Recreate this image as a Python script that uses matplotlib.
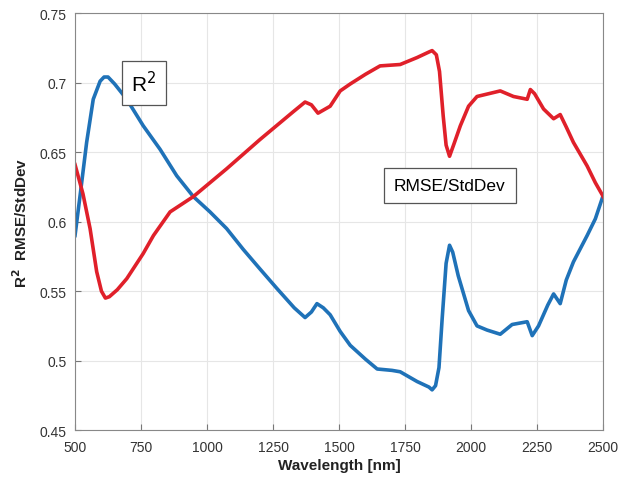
import matplotlib
matplotlib.use('Agg')
import matplotlib.pyplot as plt

plt.rcParams['font.family'] = ['Liberation Sans', 'DejaVu Sans']

# R^2 curve (blue)
r2_nm = [500, 520, 544, 569, 595, 610, 625, 650, 696, 758, 822, 885, 948, 1011, 1074, 1137,
         1200, 1264, 1330, 1371, 1395, 1416, 1440, 1466, 1504, 1542, 1600, 1644, 1700, 1731,
         1795, 1840, 1852, 1865, 1878, 1890, 1905, 1918, 1930, 1951, 1990, 2022, 2060, 2110,
         2155, 2212, 2231, 2255, 2290, 2312, 2337, 2360, 2387, 2439, 2470, 2500]
r2_val = [0.590, 0.620, 0.657, 0.688, 0.701, 0.704, 0.704, 0.699, 0.688, 0.669, 0.652, 0.633,
          0.618, 0.607, 0.595, 0.580, 0.566, 0.552, 0.538, 0.531, 0.535, 0.541, 0.538, 0.533,
          0.521, 0.511, 0.501, 0.494, 0.493, 0.492, 0.485, 0.481, 0.479, 0.482, 0.495, 0.530,
          0.570, 0.583, 0.578, 0.561, 0.536, 0.525, 0.522, 0.519, 0.526, 0.528, 0.518, 0.525,
          0.540, 0.548, 0.541, 0.558, 0.571, 0.590, 0.602, 0.619]

# RMSE/StdDev curve (red)
rmse_nm = [500, 530, 557, 582, 600, 615, 630, 660, 696, 758, 797, 860, 948, 1074, 1200,
           1326, 1371, 1395, 1420, 1466, 1504, 1542, 1600, 1655, 1731, 1795, 1840, 1852, 1868,
           1880, 1894, 1905, 1918, 1935, 1959, 1990, 2022, 2110, 2160, 2212, 2224, 2240, 2274,
           2312, 2337, 2360, 2387, 2439, 2470, 2500]
rmse_val = [0.641, 0.620, 0.595, 0.564, 0.550, 0.545, 0.546, 0.551, 0.559, 0.577, 0.590,
            0.607, 0.618, 0.638, 0.659, 0.679, 0.686, 0.684, 0.678, 0.683, 0.694, 0.699, 0.706,
            0.712, 0.713, 0.718, 0.722, 0.723, 0.720, 0.708, 0.676, 0.655, 0.647, 0.656, 0.669,
            0.683, 0.690, 0.694, 0.690, 0.688, 0.695, 0.692, 0.681, 0.674, 0.677, 0.668, 0.657,
            0.640, 0.628, 0.618]

x_ticks = [500, 750, 1000, 1250, 1500, 1750, 2000, 2250, 2500]
y_ticks = [0.45, 0.5, 0.55, 0.6, 0.65, 0.7, 0.75]
y_tick_labels = ['0.45', '0.5', '0.55', '0.6', '0.65', '0.7', '0.75']

fig = plt.figure(figsize=(6.2, 4.85), dpi=100)
ax = fig.add_axes([0.121, 0.111, 0.852, 0.860])

ax.plot(r2_nm, r2_val, color='#1f72b8', linewidth=2.6)
ax.plot(rmse_nm, rmse_val, color='#e0202a', linewidth=2.6)

ax.set_xlim(500, 2500)
ax.set_ylim(0.45, 0.75)
ax.set_xticks(x_ticks)
ax.set_yticks(y_ticks)
ax.set_yticklabels(y_tick_labels)
ax.tick_params(direction='in', length=4, colors='#777777', labelcolor='#333333', labelsize=10)
ax.tick_params(axis='x', pad=7)
ax.tick_params(axis='y', pad=6)
ax.grid(True, color='#e6e6e6', linewidth=0.8)
ax.set_axisbelow(True)
for s in ax.spines.values():
    s.set_color('#888888')
    s.set_linewidth(0.8)

ax.set_xlabel('Wavelength [nm]', fontsize=11, fontweight='bold', color='#222222', labelpad=3)
ax.set_ylabel('R$^\\mathbf{2}$  RMSE/StdDev', fontsize=11, fontweight='bold', color='#222222', labelpad=7)

box = dict(boxstyle='square,pad=0.45', facecolor='white', edgecolor='#555555', linewidth=0.9)
ax.text(761, 0.700, 'R$^2$', fontsize=15, ha='center', va='center', bbox=box)
box2 = dict(boxstyle='square,pad=0.6', facecolor='white', edgecolor='#555555', linewidth=0.9)
ax.text(1919, 0.626, 'RMSE/StdDev', fontsize=12.5, ha='center', va='center', bbox=box2)

fig.savefig('out.png', dpi=100)
